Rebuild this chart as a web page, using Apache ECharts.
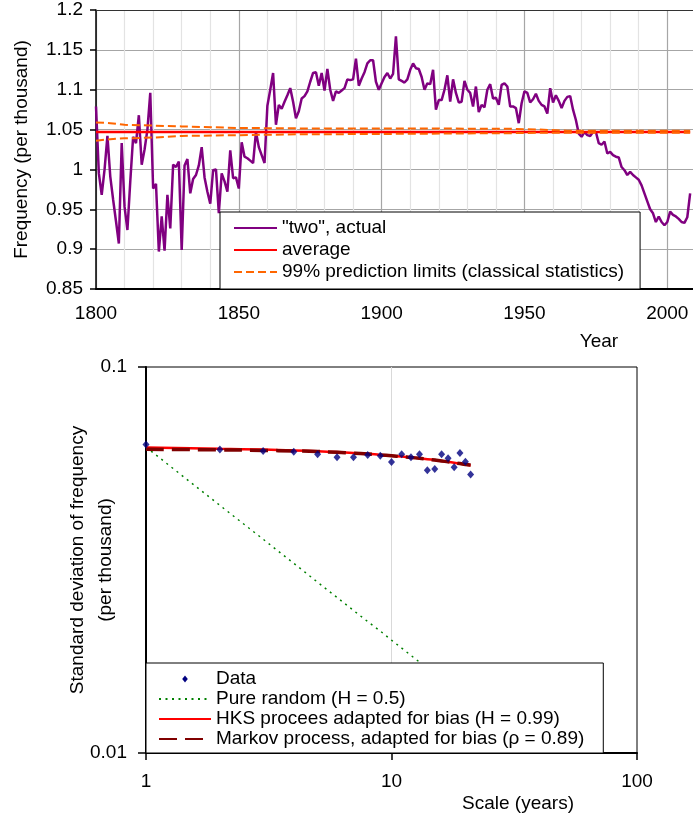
<!DOCTYPE html>
<html>
<head>
<meta charset="utf-8">
<script src="https://cdn.jsdelivr.net/npm/echarts@6/dist/echarts.min.js"></script>
<style>
  html, body { margin: 0; padding: 0; background: #fff; }
  #chart { width: 693px; height: 821px; }
</style>
</head>
<body>
<div id="chart"></div>
<script>
// ---------- Upper panel: yearly frequency of the word "two" ----------
const FIRST_YEAR = 1800;
const twoFreq = [
  1.079, 0.995, 0.968, 1.000, 1.042, 0.991, 0.962, 0.935, 0.907, 1.033, // 1800s
  0.953, 0.924, 0.985, 1.041, 1.033, 1.068, 1.006, 1.025, 1.050, 1.096, // 1810s
  0.976, 0.982, 0.897, 0.941, 0.898, 0.968, 0.926, 1.006, 1.003, 1.010, // 1820s
  0.899, 1.005, 1.013, 0.970, 0.988, 0.993, 1.005, 1.028, 0.990, 0.972, // 1830s
  0.957, 0.999, 1.000, 0.945, 0.995, 0.985, 0.972, 1.024, 0.989, 0.990, // 1840s
  0.976, 1.034, 1.016, 1.014, 1.011, 1.008, 1.047, 1.028, 1.018, 1.008, // 1850s
  1.080, 1.100, 1.121, 1.056, 1.081, 1.076, 1.085, 1.093, 1.102, 1.085, // 1860s
  1.064, 1.073, 1.089, 1.092, 1.098, 1.110, 1.121, 1.122, 1.105, 1.121, // 1870s
  1.099, 1.126, 1.100, 1.086, 1.098, 1.096, 1.099, 1.102, 1.113, 1.112, // 1880s
  1.113, 1.139, 1.105, 1.114, 1.122, 1.133, 1.137, 1.137, 1.110, 1.100, // 1890s
  1.108, 1.116, 1.121, 1.114, 1.120, 1.167, 1.113, 1.111, 1.109, 1.113, // 1900s
  1.125, 1.133, 1.127, 1.126, 1.116, 1.100, 1.108, 1.107, 1.125, 1.075, // 1910s
  1.087, 1.087, 1.100, 1.118, 1.085, 1.113, 1.096, 1.084, 1.085, 1.111, // 1920s
  1.100, 1.096, 1.079, 1.104, 1.072, 1.081, 1.078, 1.100, 1.107, 1.089, // 1930s
  1.090, 1.081, 1.106, 1.108, 1.104, 1.079, 1.079, 1.077, 1.058, 1.083, // 1940s
  1.098, 1.096, 1.084, 1.088, 1.095, 1.086, 1.081, 1.079, 1.070, 1.102, // 1950s
  1.084, 1.093, 1.086, 1.077, 1.086, 1.091, 1.092, 1.075, 1.062, 1.045, // 1960s
  1.041, 1.047, 1.043, 1.042, 1.047, 1.047, 1.033, 1.031, 1.035, 1.020, // 1970s
  1.022, 1.018, 1.016, 1.015, 1.003, 0.999, 0.993, 0.997, 0.993, 0.990, // 1980s
  0.987, 0.980, 0.970, 0.960, 0.950, 0.945, 0.934, 0.941, 0.934, 0.930, // 1990s
  0.934, 0.947, 0.943, 0.941, 0.938, 0.934, 0.933, 0.940, 0.970        // 2000s
];
const averageFreq = 1.047;
const limitYears = [1800, 1805, 1810, 1820, 1830, 1850, 1870, 1900, 1945, 1955, 1965, 2008];
const upperLimit = [1.059, 1.058, 1.056, 1.055, 1.054, 1.052, 1.0515, 1.0515, 1.051, 1.050, 1.0485, 1.0485];
const lowerLimit = [1.036, 1.038, 1.039, 1.040, 1.042, 1.043, 1.044, 1.0445, 1.0455, 1.046, 1.046, 1.046];

// ---------- Lower panel: climacogram (standard deviation vs. time scale) ----------
const scales = [1, 2, 3, 4, 5, 6, 7, 8, 9, 10, 11, 12, 13, 14, 15, 16, 17, 18, 19, 20, 21];
const stdData = [0.0630, 0.0611, 0.0606, 0.0603, 0.0594, 0.0584, 0.0584, 0.0592, 0.0589, 0.0567,
                 0.0594, 0.0584, 0.0594, 0.0540, 0.0544, 0.0594, 0.0580, 0.0550, 0.0599, 0.0568, 0.0527];
const pureRandom = [0.0620, 0.0438, 0.0358, 0.0310, 0.0277, 0.0253, 0.0234, 0.0219, 0.0207, 0.0196,
                    0.0187, 0.0179, 0.0172, 0.0166, 0.0160, 0.0155, 0.0150, 0.0146, 0.0142, 0.0139, 0.0135];
const hksFit = [0.0619, 0.0614, 0.0611, 0.0608, 0.0605, 0.0602, 0.0599, 0.0596, 0.0592, 0.0589,
                0.0586, 0.0583, 0.0580, 0.0577, 0.0574, 0.0571, 0.0568, 0.0565, 0.0562, 0.0559, 0.0556];
const markovFit = [0.0612, 0.0610, 0.0608, 0.0606, 0.0604, 0.0601, 0.0598, 0.0595, 0.0592, 0.0589,
                   0.0586, 0.0583, 0.0580, 0.0577, 0.0574, 0.0571, 0.0568, 0.0565, 0.0562, 0.0559, 0.0557];

const FONT = '"Liberation Sans", Arial, sans-serif';
const FS = 19;
const txt = { color: '#000', fontFamily: FONT, fontSize: FS };

const years = twoFreq.map((_, i) => FIRST_YEAR + i);
const lastYear = years[years.length - 1];

const NAME_TWO = '"two", actual';
const NAME_AVG = 'average';
const NAME_LIM = '99% prediction limits (classical statistics)';
const NAME_DATA = 'Data';
const NAME_RAND = 'Pure random (H = 0.5)';
const NAME_HKS = 'HKS procees adapted for bias (H = 0.99)';
const NAME_MARKOV = 'Markov process, adapted for bias (\u03c1 = 0.89)';

// small diamond used as the legend marker of the data points
const DIAMOND_ICON = 'path://M0,-1L0.8,0L0,1L-0.8,0Z';

const chart = echarts.init(document.getElementById('chart'), null, { renderer: 'canvas' });

chart.setOption({
  animation: false,
  backgroundColor: '#fff',
  textStyle: { fontFamily: FONT },
  grid: [
    { left: 96, top: 10, width: 597, height: 279, show: false },
    { left: 146, top: 367, width: 491, height: 386, show: true, borderColor: '#000', borderWidth: 1, backgroundColor: 'transparent' }
  ],
  xAxis: [
    {
      gridIndex: 0, type: 'value', min: 1800, max: 2009, interval: 10,
      axisLine: { lineStyle: { color: '#000', width: 2 } },
      axisTick: { show: false },
      axisLabel: Object.assign({ margin: 15, showMaxLabel: false, formatter: v => (v % 50 === 0) ? String(v) : '' }, txt),
      splitLine: { show: true, showMaxLine: false, lineStyle: { color: ['#a6a6a6', '#e3e3e3', '#e3e3e3', '#e3e3e3', '#e3e3e3'], width: 1.2 } }
    },
    {
      gridIndex: 1, type: 'log', logBase: 10, min: 1, max: 100,
      axisLine: { lineStyle: { color: '#000', width: 2 } },
      axisTick: { show: true, length: 7, lineStyle: { color: '#000', width: 1.5 } },
      axisLabel: Object.assign({ margin: 19, formatter: v => String(Math.round(v)) }, txt),
      splitLine: { show: true, showMinLine: false, showMaxLine: false, lineStyle: { color: '#d9d9d9', width: 1 } },
      minorTick: { show: false }
    },
    {
      // top frame line of the upper plot
      gridIndex: 0, type: 'value', position: 'top', min: 1800, max: 2009,
      axisLine: { show: true, onZero: false, lineStyle: { color: '#333', width: 1 } },
      axisTick: { show: false }, axisLabel: { show: false }, splitLine: { show: false }
    }
  ],
  yAxis: [
    {
      gridIndex: 0, type: 'value', min: 0.85, max: 1.2, interval: 0.05,
      axisLine: { show: true, lineStyle: { color: '#000', width: 1.5 } },
      axisTick: { show: true, length: 6, lineStyle: { color: '#000', width: 1.5 } },
      axisLabel: Object.assign({ margin: 13, formatter: v => String(parseFloat(v.toFixed(2))) }, txt),
      splitLine: { show: true, showMinLine: false, showMaxLine: false, lineStyle: { color: '#a6a6a6', width: 1.2 } },
      name: 'Frequency (per thousand)', nameLocation: 'middle', nameGap: 65, nameMoveOverlap: false,
      nameTextStyle: txt
    },
    {
      gridIndex: 1, type: 'log', logBase: 10, min: 0.01, max: 0.1,
      axisLine: { show: true, lineStyle: { color: '#000', width: 2 } },
      axisTick: { show: true, length: 8, lineStyle: { color: '#000', width: 1.5 } },
      axisLabel: Object.assign({ margin: 19, formatter: v => String(parseFloat(v.toPrecision(2))) }, txt),
      splitLine: { show: false },
      name: 'Standard deviation of frequency\n(per thousand)', nameLocation: 'middle', nameGap: 26, nameMoveOverlap: false,
      nameTextStyle: Object.assign({ lineHeight: 28 }, txt)
    }
  ],
  legend: [
    {
      left: 220, top: 212, orient: 'vertical', selectedMode: false,
      data: [NAME_TWO, NAME_AVG, NAME_LIM],
      itemWidth: 43, itemHeight: 7, itemGap: 0,
      itemStyle: { opacity: 0 },
      padding: [5, 16, 6, 13],
      backgroundColor: '#fff', borderColor: '#000', borderWidth: 1,
      textStyle: Object.assign({ lineHeight: 22 }, txt)
    },
    {
      left: 146, top: 663, orient: 'vertical', selectedMode: false,
      data: [
        { name: NAME_DATA, icon: DIAMOND_ICON, itemStyle: { opacity: 1 } },
        NAME_RAND, NAME_HKS, NAME_MARKOV
      ],
      itemWidth: 52, itemHeight: 7, itemGap: 0, symbolKeepAspect: true,
      itemStyle: { opacity: 0 },
      padding: [6, 19, 4, 12],
      backgroundColor: '#fff', borderColor: '#000', borderWidth: 1,
      textStyle: Object.assign({ lineHeight: 20 }, txt)
    }
  ],
  graphic: [
    { type: 'text', x: 599, y: 342, style: { text: 'Year', fill: '#000', font: FS + 'px ' + FONT, align: 'center', verticalAlign: 'middle' } },
    { type: 'text', x: 518, y: 804, style: { text: 'Scale (years)', fill: '#000', font: FS + 'px ' + FONT, align: 'center', verticalAlign: 'middle' } }
  ],
  series: [
    {
      name: NAME_TWO, type: 'line', xAxisIndex: 0, yAxisIndex: 0, symbol: 'none',
      data: years.map((y, i) => [y, twoFreq[i]]),
      lineStyle: { color: '#800080', width: 2.5 }, itemStyle: { color: '#800080' }, z: 2
    },
    {
      name: NAME_AVG, type: 'line', xAxisIndex: 0, yAxisIndex: 0, symbol: 'none',
      data: [[FIRST_YEAR, averageFreq], [lastYear, averageFreq]],
      lineStyle: { color: '#ff0000', width: 2.5 }, itemStyle: { color: '#ff0000' }, z: 3
    },
    {
      name: NAME_LIM, type: 'line', xAxisIndex: 0, yAxisIndex: 0, symbol: 'none',
      data: limitYears.map((y, i) => [y, upperLimit[i]]),
      lineStyle: { color: '#ff6600', width: 2, type: [8, 4] }, itemStyle: { color: '#ff6600' }, z: 4
    },
    {
      name: NAME_LIM, type: 'line', xAxisIndex: 0, yAxisIndex: 0, symbol: 'none',
      data: limitYears.map((y, i) => [y, lowerLimit[i]]),
      lineStyle: { color: '#ff6600', width: 2, type: [8, 4] }, itemStyle: { color: '#ff6600' }, z: 4
    },
    {
      name: NAME_RAND, type: 'line', xAxisIndex: 1, yAxisIndex: 1, symbol: 'none',
      data: scales.map((s, i) => [s, pureRandom[i]]),
      lineStyle: { color: '#008000', width: 1.5, type: [2, 4.5] }, itemStyle: { color: '#008000' }, z: 2
    },
    {
      name: NAME_HKS, type: 'line', xAxisIndex: 1, yAxisIndex: 1, symbol: 'none', smooth: true,
      data: scales.map((s, i) => [s, hksFit[i]]),
      lineStyle: { color: '#ff0000', width: 2.5 }, itemStyle: { color: '#ff0000' }, z: 3
    },
    {
      name: NAME_MARKOV, type: 'line', xAxisIndex: 1, yAxisIndex: 1, symbol: 'none', smooth: true,
      data: scales.map((s, i) => [s, markovFit[i]]),
      lineStyle: { color: '#800000', width: 3.5, type: [18, 8] }, itemStyle: { color: '#800000' }, z: 4
    },
    {
      name: NAME_DATA, type: 'scatter', xAxisIndex: 1, yAxisIndex: 1,
      symbol: 'diamond', symbolSize: [7, 8],
      data: scales.map((s, i) => [s, stdData[i]]),
      itemStyle: { color: '#000080' }, z: 5
    }
  ]
});
</script>
</body>
</html>
